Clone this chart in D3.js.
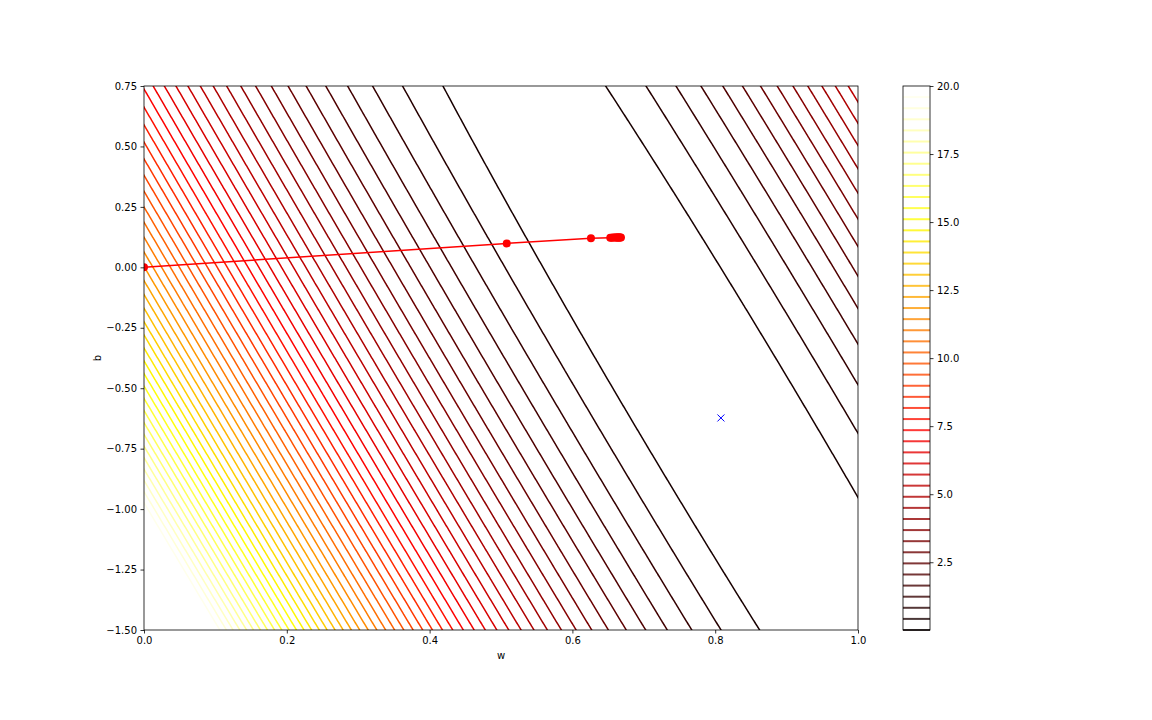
<!DOCTYPE html>
<html>
<head>
<meta charset="utf-8">
<script src="https://cdn.jsdelivr.net/npm/d3@7"></script>
<style>
body { margin: 0; background: #fff; }
text { font-family: "DejaVu Sans", sans-serif; font-size: 10px; fill: #000; }
</style>
</head>
<body>
<script>
// loss surface: L = lossMin + k0*(n.p)^2 + k1*(t.p)^2, p = (w,b) - minimum
var minimum = [0.808, -0.623];
var lossMin = 0.01;
var curvature = [26.4, 0.04];     // across the valley, along the valley
var valleyDir = [0.452, -2.25];   // valley direction in (w, b)
var levelCount = 50;
var levelMax = 20;

// gradient descent path
var pathW = [0, 0.508, 0.626, 0.653, 0.655, 0.657, 0.659, 0.661, 0.662, 0.663, 0.664, 0.665, 0.666, 0.667, 0.668];
var pathB = [0, 0.099, 0.120, 0.122, 0.122, 0.123, 0.123, 0.123, 0.123, 0.123, 0.123, 0.123, 0.123, 0.123, 0.123];

var xTicks = [0, 0.2, 0.4, 0.6, 0.8, 1.0];
var yTicks = [0.75, 0.5, 0.25, 0, -0.25, -0.5, -0.75, -1.0, -1.25, -1.5];
var cbTicks = [2.5, 5, 7.5, 10, 12.5, 15, 17.5, 20];

var W = 1152, H = 720;
var axL = 144, axR = 858, axT = 86, axB = 630;
var cbL = 903, cbR = 930;

var svg = d3.select('body').append('svg')
    .attr('width', W).attr('height', H);

var x = d3.scaleLinear().domain([0, 1]).range([axL, axR]);
var y = d3.scaleLinear().domain([-1.5, 0.75]).range([axB, axT]);

// matplotlib "hot"
function hot(v) {
    var r = v < 0.365079 ? 0.0416 + (1 - 0.0416) * v / 0.365079 : 1;
    var g = Math.max(0, Math.min(1, (v - 0.365079) / (0.746032 - 0.365079)));
    var b = Math.max(0, Math.min(1, (v - 0.746032) / (1 - 0.746032)));
    return d3.rgb(r * 255, g * 255, b * 255).toString();
}

var levels = d3.range(levelCount).map(function(i) {
    return lossMin + i * (levelMax - lossMin) / (levelCount - 1);
});

var len = Math.hypot(valleyDir[0], valleyDir[1]);
var tv = [valleyDir[0] / len, valleyDir[1] / len];
var nv = [-tv[1], tv[0]];
if (nv[0] < 0) nv = [-nv[0], -nv[1]];

function loss(w, b) {
    var u = w - minimum[0], v = b - minimum[1];
    var a = nv[0] * u + nv[1] * v, c = tv[0] * u + tv[1] * v;
    return lossMin + curvature[0] * a * a + curvature[1] * c * c;
}

// grid slightly larger than the axes, clipped later
var nx = 400, ny = 400;
var gw0 = -0.05, gw1 = 1.05, gb0 = 0.85, gb1 = -1.6;
var dw = (gw1 - gw0) / (nx - 1), db = (gb1 - gb0) / (ny - 1);
var values = new Array(nx * ny);
for (var j = 0; j < ny; ++j) {
    for (var i = 0; i < nx; ++i) {
        values[j * nx + i] = loss(gw0 + i * dw, gb0 + j * db);
    }
}

var contours = d3.contours().size([nx, ny]).thresholds(levels)(values);

var toPx = d3.geoTransform({
    point: function(px, py) {
        this.stream.point(x(gw0 + (px - 0.5) * dw), y(gb0 + (py - 0.5) * db));
    }
});
var path = d3.geoPath(toPx);

svg.append('clipPath').attr('id', 'clip')
    .append('rect')
    .attr('x', axL).attr('y', axT)
    .attr('width', axR - axL).attr('height', axB - axT);

var plot = svg.append('g').attr('clip-path', 'url(#clip)');

plot.selectAll('path.lvl')
    .data(contours)
    .enter().append('path')
    .attr('class', 'lvl')
    .attr('d', path)
    .style('fill', 'none')
    .style('stroke', function(d, i) { return hot(i / (levelCount - 1)); })
    .style('stroke-width', 1.5);

// descent path
var pts = pathW.map(function(w, i) { return [x(w), y(pathB[i])]; });
plot.append('path')
    .attr('d', d3.line()(pts))
    .style('fill', 'none')
    .style('stroke', 'red')
    .style('stroke-width', 1.5);

plot.selectAll('circle.step')
    .data(pts)
    .enter().append('circle')
    .attr('class', 'step')
    .attr('cx', function(d) { return d[0]; })
    .attr('cy', function(d) { return d[1]; })
    .attr('r', 4)
    .style('fill', 'red');

// minimum marker
var mx = x(minimum[0]), my = y(minimum[1]), s = 3.5;
svg.append('path')
    .attr('d', 'M' + (mx - s) + ',' + (my - s) + 'L' + (mx + s) + ',' + (my + s) +
               'M' + (mx - s) + ',' + (my + s) + 'L' + (mx + s) + ',' + (my - s))
    .style('stroke', 'blue')
    .style('stroke-width', 1);

// axes
function minus(str) { return str.replace('-', '\u2212'); }

var xAxis = d3.axisBottom(x).tickValues(xTicks).tickSize(3.5).tickPadding(3.5)
    .tickFormat(d3.format('.1f'));
var yAxis = d3.axisLeft(y).tickValues(yTicks).tickSize(3.5).tickPadding(3.5)
    .tickFormat(function(d) { return minus(d3.format('.2f')(d)); });

var gx = svg.append('g').attr('transform', 'translate(0,' + axB + ')').call(xAxis);
var gy = svg.append('g').attr('transform', 'translate(' + axL + ',0)').call(yAxis);
[gx, gy].forEach(function(g) {
    g.select('.domain').remove();
    g.selectAll('line').style('stroke', '#000').style('stroke-width', 0.8);
    g.selectAll('text').style('font-size', '10px').style('font-family', '"DejaVu Sans", sans-serif');
});

svg.append('rect')
    .attr('x', axL).attr('y', axT)
    .attr('width', axR - axL).attr('height', axB - axT)
    .style('fill', 'none').style('stroke', '#000').style('stroke-width', 0.8);

svg.append('text').attr('x', (axL + axR) / 2).attr('y', 659)
    .attr('text-anchor', 'middle').text('w');
svg.append('text')
    .attr('transform', 'translate(101,' + ((axT + axB) / 2) + ') rotate(-90)')
    .attr('text-anchor', 'middle').text('b');

// colorbar
var cy = d3.scaleLinear().domain([lossMin, levelMax]).range([axB, axT]);
var cb = svg.append('g');
cb.selectAll('line.cbl')
    .data(levels)
    .enter().append('line')
    .attr('class', 'cbl')
    .attr('x1', cbL).attr('x2', cbR)
    .attr('y1', function(d) { return cy(d); })
    .attr('y2', function(d) { return cy(d); })
    .style('stroke', function(d, i) { return hot(i / (levelCount - 1)); })
    .style('stroke-opacity', 0.78)
    .style('stroke-width', 2);
cb.append('rect')
    .attr('x', cbL).attr('y', axT)
    .attr('width', cbR - cbL).attr('height', axB - axT)
    .style('fill', 'none').style('stroke', '#000').style('stroke-width', 0.8);

var cAxis = d3.axisRight(cy).tickValues(cbTicks).tickSize(3.5).tickPadding(3.5)
    .tickFormat(d3.format('.1f'));
var gc = svg.append('g').attr('transform', 'translate(' + cbR + ',0)').call(cAxis);
gc.select('.domain').remove();
gc.selectAll('line').style('stroke', '#000').style('stroke-width', 0.8);
gc.selectAll('text').style('font-size', '10px').style('font-family', '"DejaVu Sans", sans-serif');
</script>
</body>
</html>
